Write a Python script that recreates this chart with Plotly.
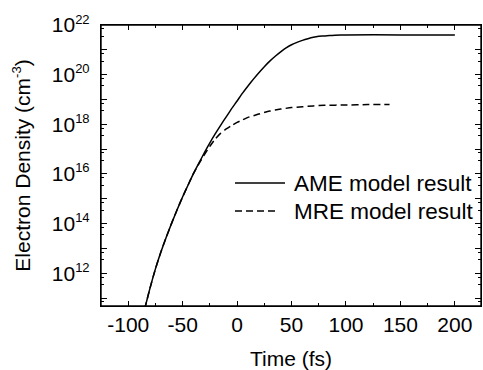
import plotly.graph_objects as go

# AME model result (solid)
t_ame = [-85, -80, -75, -70, -65, -60, -55, -50, -45, -40, -35, -30, -25, -20, -15,
         -10, -5, 0, 5, 10, 15, 20, 25, 30, 35, 40, 45, 50, 55, 60, 65, 70, 75, 80, 85,
         90, 100, 150, 200]
n_ame = [3.5e10, 2.5e11, 1.5e12, 7.1e12, 2.9e13, 1.07e14, 3.7e14, 1.2e15, 3.6e15, 1.05e16,
         2.8e16, 7.2e16, 1.8e17, 4.2e17, 9.3e17, 2.0e18, 4.3e18, 8.7e18, 1.8e19, 3.5e19,
         6.6e19, 1.2e20, 2.1e20, 3.5e20, 5.5e20, 8.3e20, 1.2e21, 1.6e21, 2.0e21, 2.4e21,
         2.8e21, 3.2e21, 3.5e21, 3.6e21, 3.8e21, 3.9e21, 4.0e21, 4.0e21, 4.0e21]

# MRE model result (dashed)
t_mre = [-85, -80, -75, -70, -65, -60, -55, -50, -45, -40, -35, -30, -25, -20, -15,
         -10, -5, 0, 5, 10, 15, 20, 30, 40, 50, 60, 70, 80, 100, 120, 140]
n_mre = [3.5e10, 2.5e11, 1.5e12, 7.1e12, 2.9e13, 1.07e14, 3.7e14, 1.2e15, 3.6e15, 1.05e16,
         2.6e16, 6.0e16, 1.3e17, 2.6e17, 4.4e17, 6.5e17, 8.9e17, 1.2e18, 1.5e18, 1.9e18,
         2.2e18, 2.6e18, 3.4e18, 4.1e18, 4.7e18, 5.1e18, 5.5e18, 5.8e18, 6.0e18, 6.2e18,
         6.3e18]

series_names = ["AME model result", "MRE model result"]

x_tickvals = [-100, -50, 0, 50, 100, 150, 200]
x_ticktext = ["-100", "-50", "0", "50", "100", "150", "200"]
y_exponents = [11, 12, 13, 14, 15, 16, 17, 18, 19, 20, 21, 22]
y_labelled = [12, 14, 16, 18, 20, 22]

FONT = "Liberation Sans, Arial, sans-serif"
FS = 21

y_tickvals = [10.0 ** e for e in y_exponents]
y_ticktext = [
    (f'10<sup><span style="font-size:13px">{e}</span></sup>' if e in y_labelled else "")
    for e in y_exponents
]
y_minor = [m * 10.0 ** e for e in range(10, 22) for m in (3.5, 7.0)]

fig = go.Figure()
fig.add_trace(go.Scatter(x=t_ame, y=n_ame, mode="lines", name=series_names[0],
                         line=dict(color="black", width=1.5, shape="spline", smoothing=0.5),
                         showlegend=False))
fig.add_trace(go.Scatter(x=t_mre, y=n_mre, mode="lines", name=series_names[1],
                         line=dict(color="black", width=1.5, dash="7px,4px",
                                   shape="spline", smoothing=0.5),
                         showlegend=False))

axis_common = dict(showline=True, linecolor="black", linewidth=1.4, mirror="ticks",
                   ticks="inside", tickcolor="black", tickwidth=1.3,
                   showgrid=False, zeroline=False, automargin=False,
                   tickfont=dict(family=FONT, size=FS, color="black"))

fig.update_xaxes(range=[-125, 224], tickvals=x_tickvals, ticktext=x_ticktext, ticklen=5,
                 minor=dict(dtick=25, tick0=0, ticks="inside", ticklen=3, tickwidth=1.3,
                            tickcolor="black"),
                 title=dict(text="Time (fs)", font=dict(family=FONT, size=FS, color="black"),
                            standoff=17),
                 ticklabelstandoff=0,
                 **axis_common)
fig.update_yaxes(type="log", range=[10.68, 22], tickvals=y_tickvals, ticktext=y_ticktext,
                 ticklen=6,
                 minor=dict(tickvals=y_minor, ticks="inside", ticklen=3, tickwidth=1.3,
                            tickcolor="black"),
                 title=dict(text='Electron Density (cm<sup><span style="font-size:13px">-3</span></sup>)',
                            font=dict(family=FONT, size=FS, color="black"), standoff=15),
                 ticklabelstandoff=6,
                 **axis_common)

# legend drawn as samples + labels in paper coordinates
L, R, T, B = 101, 481, 25, 306
W, H = R - L, B - T
def px(x):
    return (x - L) / W
def py(y):
    return (B - y) / H

# frame around the plotting area
fig.add_shape(type="rect", xref="paper", yref="paper", x0=0, x1=1, y0=0, y1=1,
              line=dict(color="black", width=1.4), layer="above")

legend_rows = [(183, "solid", 285), (211, "7px,4px", 279)]
for (yy, dash, x_end), name in zip(legend_rows, series_names):
    fig.add_shape(type="line", xref="paper", yref="paper", x0=px(235), x1=px(x_end),
                  y0=py(yy), y1=py(yy), line=dict(color="black", width=1.5, dash=dash))
    fig.add_annotation(xref="paper", yref="paper", x=px(292), y=py(yy), text=name,
                       showarrow=False, xanchor="left", yanchor="middle",
                       font=dict(family=FONT, size=22.5, color="black"))

fig.update_layout(width=483, height=370, margin=dict(l=L, r=483 - R, t=T, b=370 - B),
                  paper_bgcolor="white", plot_bgcolor="white",
                  font=dict(family=FONT, size=FS, color="black"))

fig.write_html("out.html", config={"displayModeBar": False},
               post_script="document.body.style.margin='0';document.body.style.padding='0';")
